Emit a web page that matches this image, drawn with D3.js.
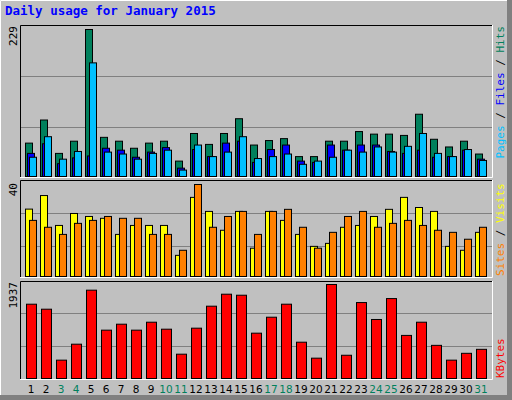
<!DOCTYPE html>
<html>
<head>
<meta charset="utf-8">
<script src="https://cdn.jsdelivr.net/npm/d3@7"></script>
<style>
  body { margin: 0; background: #fff; }
  text { font-family: "DejaVu Sans Mono", monospace; }
</style>
</head>
<body>
<svg id="chart"></svg>
<script>
const days = d3.range(1, 32);
const weekends = [3, 4, 10, 11, 17, 18, 24, 25, 31];
const hits = [52, 88, 36, 55, 229, 61, 55, 44, 52, 55, 24, 67, 50, 67, 90, 49,
  56, 59, 31, 31, 55, 55, 70, 66, 66, 64, 97, 58, 46, 55, 35];
const files = [36, 51, 20, 29, 32, 44, 41, 30, 38, 45, 13, 42, 31, 52, 55, 22,
  42, 49, 24, 22, 49, 41, 49, 49, 39, 36, 41, 30, 31, 41, 27];
const pages = [30, 62, 27, 39, 177, 38, 35, 27, 36, 41, 10, 49, 31, 38, 62, 28,
  31, 35, 19, 24, 30, 41, 38, 46, 38, 47, 67, 36, 31, 42, 25];
const sites = [29.3, 35.2, 22.2, 27.4, 26.1, 25.3, 18.3, 22.2, 22.2, 22.2, 9.2, 34.4, 28.3, 20.1, 28.3, 12.3,
  28.3, 24.4, 18.3, 13.1, 14.4, 21.4, 22.2, 26.1, 29.2, 34.4, 30.0, 28.3, 13.1, 11.4, 19.2];
const visits = [24.4, 21.4, 18.3, 23.1, 24.4, 26.1, 25.3, 25.3, 18.3, 18.3, 11.4, 40, 21.4, 26.1, 28.3, 18.3,
  28.3, 29.2, 21.4, 12.3, 19.2, 26.1, 28.3, 21.4, 23.1, 24.4, 22.2, 20.1, 19.2, 16.2, 21.4];
const kbytes = [1531, 1428, 378, 707, 1820, 996, 1119, 996, 1160, 1016, 501, 1037, 1490, 1737, 1716, 934,
  1263, 1531, 748, 419, 1937, 479, 1565, 1216, 1647, 888, 1160, 683, 378, 519, 601];

const W = 512, H = 400;
const svg = d3.select("#chart").attr("width", W).attr("height", H);

// outer background with bevel
svg.append("rect").attr("width", W).attr("height", H).attr("fill", "#c0c0c0");
svg.append("path").attr("d", `M0.5,${H} V0.5 H${W}`).attr("stroke", "#fff").attr("fill", "none");
svg.append("rect").attr("x", 0).attr("y", H - 5).attr("width", W).attr("height", 5).attr("fill", "#808080");
svg.append("rect").attr("x", W - 5).attr("y", 0).attr("width", 5).attr("height", H).attr("fill", "#808080");

svg.append("text").attr("x", 5).attr("y", 15)
  .attr("font-size", 12.5).attr("font-weight", "bold").attr("fill", "#0000ff")
  .text("Daily usage for January 2015");

const x = d3.scaleLinear().domain([1, 31]).range([25, 475]);
const L = 20, R = 492;

function panel(top, bottom, max, yMax, grids) {
  const y = d3.scaleLinear().domain([0, max]).range([bottom, yMax]);
  svg.append("rect").attr("x", L).attr("y", top).attr("width", R - L).attr("height", bottom - top + 1)
    .attr("fill", "#c0c0c0");
  grids.forEach(g => svg.append("line").attr("x1", L).attr("x2", R).attr("y1", g).attr("y2", g)
    .attr("stroke", "#808080"));
  svg.append("path").attr("d", `M${L + 0.5},${bottom + 1} V${top + 0.5} H${R}`)
    .attr("stroke", "#000").attr("fill", "none");
  svg.append("path").attr("d", `M${L},${bottom + 1.5} H${R + 0.5} V${top}`)
    .attr("stroke", "#fff").attr("fill", "none");
  return y;
}

function bars(data, y, off, w, color) {
  svg.append("g").selectAll("rect").data(data).join("rect")
    .attr("x", (d, i) => x(days[i]) + off + 0.5)
    .attr("y", d => y(d) + 0.5)
    .attr("width", w)
    .attr("height", d => y(0) - y(d))
    .attr("fill", color).attr("stroke", "#000");
}

function leftLabel(txt, yEnd) {
  svg.append("text").attr("transform", `translate(17,${yEnd}) rotate(-90)`)
    .attr("text-anchor", "end").attr("font-size", 11).attr("fill", "#000").text(txt);
}

// panel 1: hits / files / pages
const y1 = panel(25, 176, 229, 29, [76.5, 127.5]);
bars(hits, y1, 0, 7, "#00805c");
bars(files, y1, 2, 7, "#0000ff");
bars(pages, y1, 4, 7, "#00c0ff");
leftLabel("229", 26);

// panel 2: sites / visits
const y2 = panel(180, 276, 40, 184, [213.5, 246.5]);
bars(sites, y2, 0, 7, "#ffff00");
bars(visits, y2, 4, 7, "#ff8000");
leftLabel("40", 183);

// panel 3: kbytes
const y3 = panel(281, 378, 1937, 284, [313.5, 346.5]);
bars(kbytes, y3, 1, 10, "#ff0000");
leftLabel("1937", 282);

// right labels
function rightLabel(parts, yPos, anchor) {
  const t = svg.append("text").attr("transform", `translate(504,${yPos}) rotate(-90)`)
    .attr("text-anchor", anchor).attr("font-size", 11);
  parts.forEach(p => t.append("tspan").attr("fill", p[1]).text(p[0]));
}
rightLabel([["Pages", "#00c0ff"], [" / ", "#000"], ["Files", "#0000ff"], [" / ", "#000"], ["Hits", "#00805c"]], 26, "end");
rightLabel([["Sites", "#ff8000"], [" / ", "#000"], ["Visits", "#ffff00"]], 276, "start");
rightLabel([["KBytes", "#ff0000"]], 378, "start");

// day labels
svg.append("g").selectAll("text").data(days).join("text")
  .attr("x", d => x(d) + 6).attr("y", 393)
  .attr("text-anchor", "middle")
  .style("font-family", "'DejaVu Sans', sans-serif").attr("font-size", 10.5)
  .attr("fill", d => weekends.includes(d) ? "#00805c" : "#000")
  .text(d => d);
</script>
</body>
</html>
